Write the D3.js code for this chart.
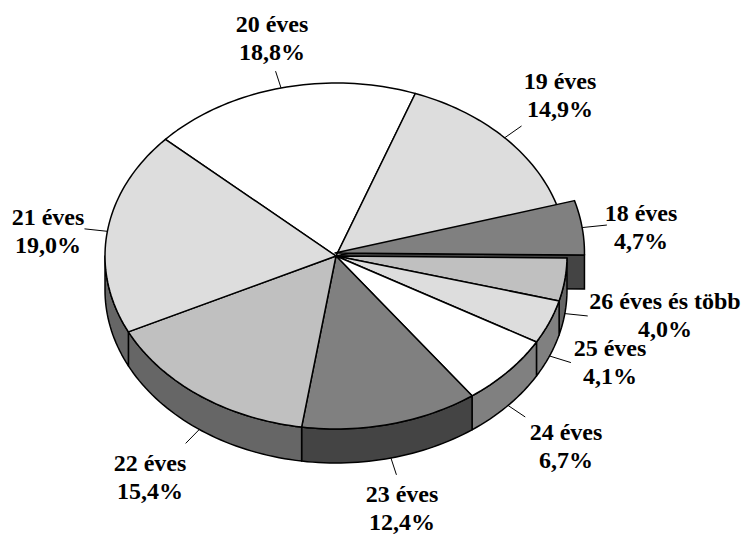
<!DOCTYPE html>
<html>
<head>
<meta charset="utf-8">
<script src="https://d3js.org/d3.v7.min.js"></script>
<style>
  html, body { margin: 0; padding: 0; background: #fff; }
  text { font-family: "Liberation Serif", serif; font-weight: bold; font-size: 24px; fill: #000; text-anchor: middle; }
</style>
</head>
<body>
<div id="chart"></div>
<script>
var categories = ['20 éves', '19 éves', '18 éves', '26 éves és több', '25 éves', '24 éves', '23 éves', '22 éves', '21 éves'];
var shares = [18.8, 14.9, 4.7, 4.0, 4.1, 6.7, 12.4, 15.4, 19.0];
var topColors = ['#ffffff', '#dddddd', '#808080', '#c0c0c0', '#dddddd', '#ffffff', '#808080', '#c0c0c0', '#dddddd'];
var wallColors = ['#666666', '#666666', '#444444', '#666666', '#808080', '#808080', '#444444', '#666666', '#666666'];
var explodedIndex = 2;

// label centres and first baselines, same order as categories
var labelX = [272, 560, 641, 665, 610, 566, 402, 150, 48];
var labelY = [32, 89, 221, 309, 356, 440, 502, 471, 225];

var totalWidth = 745;
var totalHeight = 535;
var cx = 336;
var cy = 256;
var rx = 231;
var ry = 173;
var depth = 34;
var explodeScale = 1.08;

var svg = d3.select('#chart').append('svg')
  .attr('width', totalWidth)
  .attr('height', totalHeight)
  .style('display', 'block');

var pie = d3.pie().sort(null).startAngle(-47.6 * Math.PI / 180).endAngle(312.4 * Math.PI / 180);
var arcs = pie(shares);

function project(angle, scale, ox, oy) {
  return [
    ox + rx * scale * Math.sin(angle),
    oy - ry * scale * Math.cos(angle)
  ];
}

function samples(a0, a1) {
  var n = Math.max(2, Math.ceil(Math.abs(a1 - a0) * 40));
  return d3.range(n + 1).map(i => a0 + (a1 - a0) * i / n);
}

var line = d3.line();

function topPath(d) {
  var e = d.index === explodedIndex;
  var ox = e ? cx - 1 : cx;
  var oy = e ? cy - 3 : cy;
  var s = e ? explodeScale : 1;
  var pts = samples(d.startAngle, d.endAngle).map(a => project(a, s, ox, oy));
  return line([[ox, oy]].concat(pts)) + 'Z';
}

function wallPath(d) {
  var a0 = Math.max(d.startAngle, Math.PI / 2);
  var a1 = Math.min(d.endAngle, 1.5 * Math.PI);
  if (a1 <= a0) return null;
  var upper = samples(a0, a1).map(a => project(a, 1, cx, cy));
  var lower = upper.slice().reverse().map(p => [p[0], p[1] + depth]);
  return line(upper.concat(lower)) + 'Z';
}

// cut face of the pulled-out slice sits behind everything in front of it
var ex = arcs[explodedIndex];
var tip = project(ex.endAngle, explodeScale, cx - 1, cy - 3);
svg.append('path')
  .attr('d', line([[cx - 1, cy - 3], tip, [tip[0], tip[1] + depth], [cx - 1, cy - 3 + depth]]) + 'Z')
  .attr('fill', wallColors[explodedIndex])
  .attr('stroke', '#000')
  .attr('stroke-width', 1.5);

svg.append('g').selectAll('path')
  .data(arcs.filter(d => wallPath(d) !== null && d.index !== explodedIndex))
  .enter().append('path')
    .attr('d', wallPath)
    .attr('fill', d => wallColors[d.index])
    .attr('stroke', '#000')
    .attr('stroke-width', 1.5)
    .attr('stroke-linejoin', 'round');

svg.append('g').selectAll('path')
  .data(arcs)
  .enter().append('path')
    .attr('d', topPath)
    .attr('fill', d => topColors[d.index])
    .attr('stroke', '#000')
    .attr('stroke-width', 1.5)
    .attr('stroke-linejoin', 'round');

/*
 * Leader lines and labels
 */
function leader(d) {
  var mid = (d.startAngle + d.endAngle) / 2;
  var e = d.index === explodedIndex;
  var s = e ? explodeScale : 1;
  var drop = Math.cos(mid) < 0 ? depth : 0;
  var a = project(mid, s, e ? cx - 1 : cx, e ? cy - 3 : cy);
  var b = project(mid, s * 1.1, e ? cx - 1 : cx, e ? cy - 3 : cy);
  return line([[a[0], a[1] + drop], [b[0], b[1] + drop]]);
}

svg.append('g').selectAll('path')
  .data(arcs)
  .enter().append('path')
    .attr('d', leader)
    .attr('fill', 'none')
    .attr('stroke', '#000')
    .attr('stroke-width', 1);

var labels = svg.append('g').selectAll('text')
  .data(arcs)
  .enter().append('text')
    .attr('transform', d => `translate(${labelX[d.index]}, ${labelY[d.index]})`);

labels.append('tspan')
  .attr('x', 0)
  .attr('y', 0)
  .text(d => categories[d.index]);

labels.append('tspan')
  .attr('x', 0)
  .attr('y', 28)
  .text(d => shares[d.index].toFixed(1).replace('.', ',') + '%');
</script>
</body>
</html>
